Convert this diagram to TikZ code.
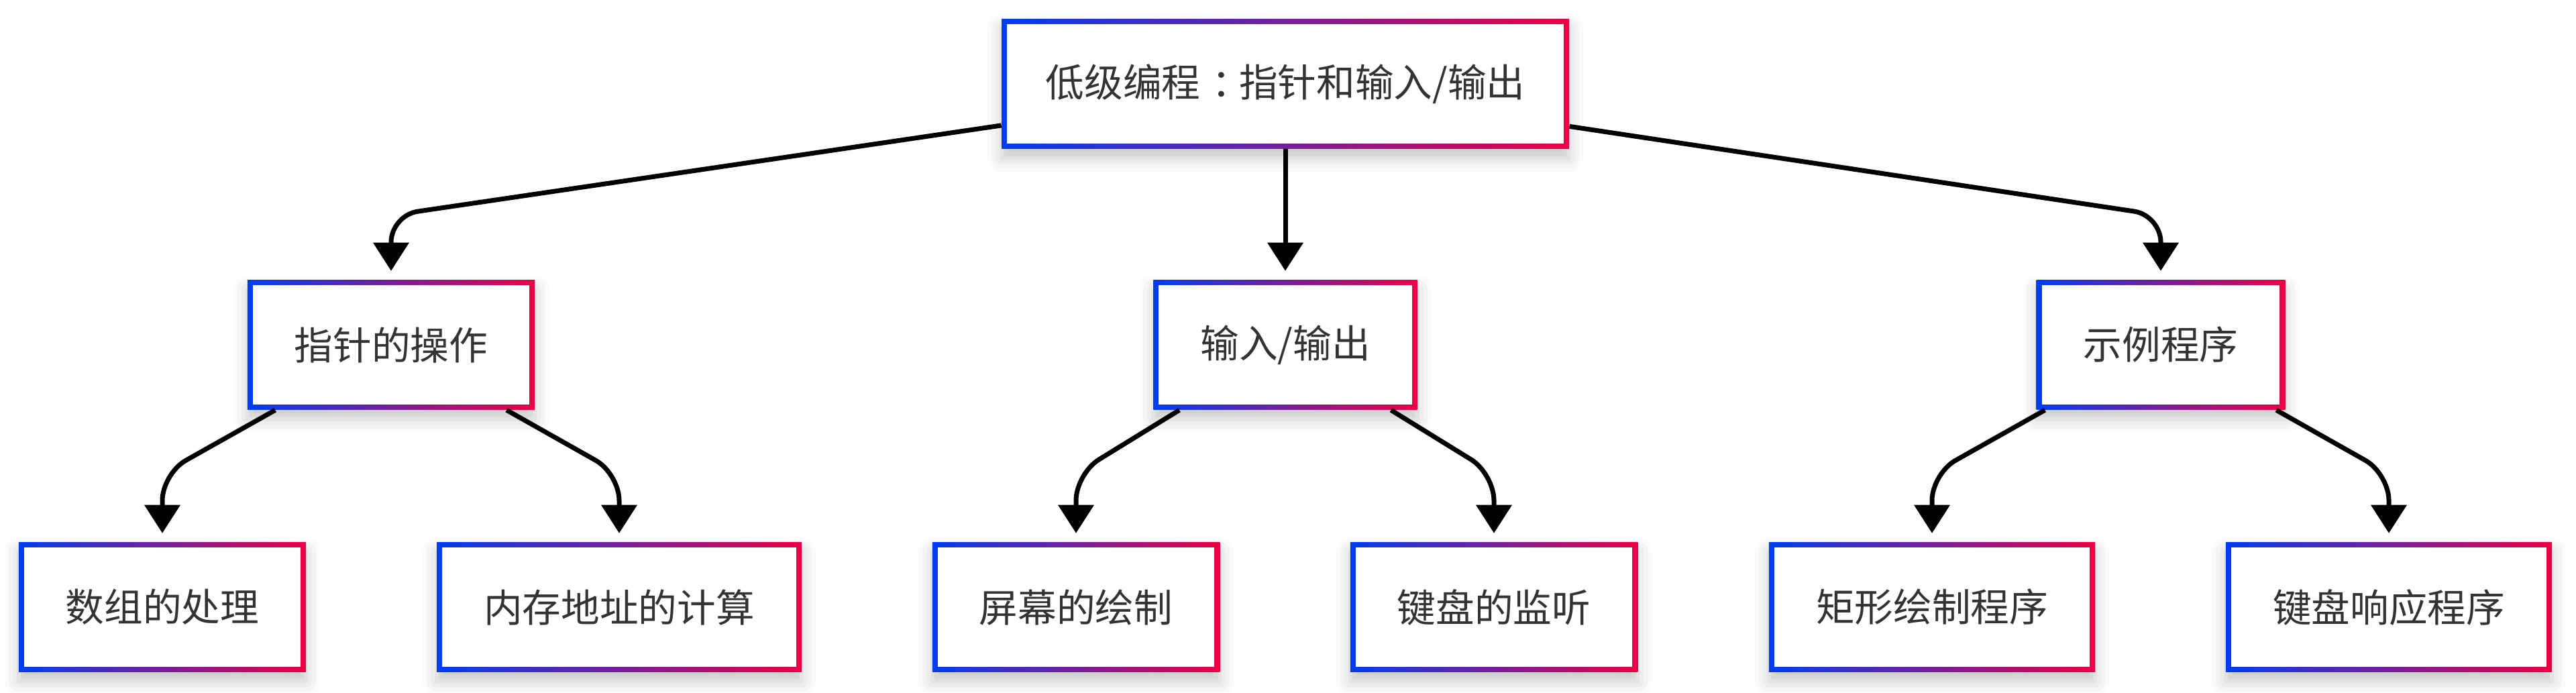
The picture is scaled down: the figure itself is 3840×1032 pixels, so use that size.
\documentclass[tikz,border=0pt]{standalone}
\usepackage{fontspec}
\newfontfamily\cjk{Noto Sans CJK SC}
\usetikzlibrary{arrows.meta,calc,shadows.blur}
\definecolor{gblue}{RGB}{0,61,242}
\definecolor{gred}{RGB}{236,0,68}
\definecolor{txtgray}{RGB}{51,51,51}
\tikzset{
  gbox/.style={rectangle,inner xsep=0.7cm,inner ysep=0pt,minimum height=1.93cm,
    left color=gblue,right color=gred,text=txtgray,font={\cjk\fontsize{16.4pt}{20pt}\selectfont},
    blur shadow={shadow xshift=0pt,shadow yshift=-4pt,shadow blur radius=6pt,shadow opacity=22},
    path picture={\fill[white] ($(path picture bounding box.south west)+(0.08cm,0.08cm)$) rectangle ($(path picture bounding box.north east)-(0.08cm,0.08cm)$);}},
  gline/.style={-{Triangle[length=0.42cm,width=0.52cm]},line width=0.07cm,rounded corners=0.4cm,shorten >=0.13cm}
}
\begin{document}
\begin{tikzpicture}[x=0.01cm,y=-0.01cm]
  \useasboundingbox (0,0) rectangle (3840,1032);
  % top
  \node[gbox,inner xsep=0.4cm,minimum width=8.45cm] (root) at (1916,125) {低级编程\kern0.3em：\kern-0.3em指针和输入/输出};
  % second row
  \node[gbox] (ptr) at (583,514) {指针的操作};
  \node[gbox] (io) at (1916,514) {输入/输出};
  \node[gbox] (demo) at (3221,514) {示例程序};
  % third row
  \node[gbox] (arr) at (242,905) {数组的处理};
  \node[gbox] (addr) at (923,905) {内存地址的计算};
  \node[gbox] (scr) at (1604,905) {屏幕的绘制};
  \node[gbox] (key) at (2227,905) {键盘的监听};
  \node[gbox] (rect) at (2880,905) {矩形绘制程序};
  \node[gbox] (resp) at (3561,905) {键盘响应程序};
  % bends of the connectors
  \coordinate (row1) at (0,321);
  \coordinate (row2) at (0,706);
  \draw[gline] (root) -- (ptr |- row1) -- (ptr);
  \draw[gline] (root) -- (io);
  \draw[gline] (root) -- (demo |- row1) -- (demo);
  \foreach \p/\c in {ptr/arr,ptr/addr,io/scr,io/key,demo/rect,demo/resp}
    \draw[gline] (\p) -- (\c |- row2) -- (\c);
\end{tikzpicture}
\end{document}
